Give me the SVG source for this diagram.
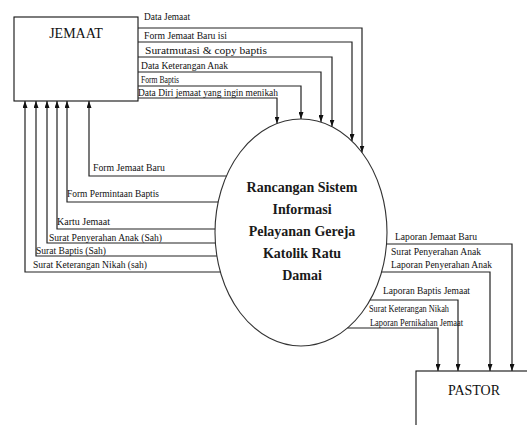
<svg xmlns="http://www.w3.org/2000/svg" width="527" height="425" viewBox="0 0 527 425">
<style>
.box{fill:#fff;stroke:#111;stroke-width:1.1}
.proc{fill:#fff;stroke:#333;stroke-width:1.1}
.ln{fill:none;stroke:#222;stroke-width:1.2}
.lb{font-family:'Liberation Serif','DejaVu Serif',serif;font-size:9.5px;fill:#111}
.nm{font-family:'Liberation Serif','DejaVu Serif',serif;font-size:14px;fill:#111}
.pt{font-family:'Liberation Serif','DejaVu Serif',serif;font-size:14px;font-weight:bold;fill:#1a1a1a;text-anchor:middle}
</style>
<defs>
<marker id="ah" viewBox="0 0 7 5" refX="7" refY="2.5" markerWidth="7" markerHeight="5" markerUnits="userSpaceOnUse" orient="auto">
<path d="M0,0 L7,2.5 L0,5 z" fill="#111"/>
</marker>
</defs>
<rect width="527" height="425" fill="#fff"/>
<g id="jemaat">
<rect class="box" x="14" y="17" width="124" height="84"/>
<text class="nm" font-family="Liberation Serif, serif" x="76" y="38" text-anchor="middle">JEMAAT</text>
</g>
<g id="pastor">
<rect class="box" x="416" y="371" width="130" height="70"/>
<text class="nm" font-family="Liberation Serif, serif" x="474" y="395" text-anchor="middle">PASTOR</text>
</g>
<g id="sistem">
<ellipse class="proc" cx="301" cy="232.5" rx="86" ry="113.5"/>
<text class="pt" x="302" y="192">Rancangan Sistem</text>
<text class="pt" x="302" y="214">Informasi</text>
<text class="pt" x="302" y="236">Pelayanan Gereja</text>
<text class="pt" x="302" y="258">Katolik Ratu</text>
<text class="pt" x="302" y="280">Damai</text>
</g>
<g id="connectors">
<polyline class="ln" points="138,28 362,28 362,152.5" marker-end="url(#ah)"/>
<polyline class="ln" points="138,42 352,42 352,141" marker-end="url(#ah)"/>
<polyline class="ln" points="138,57 332,57 332,126.6" marker-end="url(#ah)"/>
<polyline class="ln" points="138,72 321,72 321,122" marker-end="url(#ah)"/>
<polyline class="ln" points="138,86 301,86 301,119" marker-end="url(#ah)"/>
<polyline class="ln" points="138,98 277,98 277,123.5" marker-end="url(#ah)"/>
<polyline class="ln" points="226.4,176 89,176 89,101" marker-end="url(#ah)"/>
<polyline class="ln" points="218.2,202 67,202 67,101" marker-end="url(#ah)"/>
<polyline class="ln" points="215,229 57,229 57,101" marker-end="url(#ah)"/>
<polyline class="ln" points="215.4,243 47,243 47,101" marker-end="url(#ah)"/>
<polyline class="ln" points="216.9,256 36,256 36,101" marker-end="url(#ah)"/>
<polyline class="ln" points="220.4,272 25,272 25,101" marker-end="url(#ah)"/>
<polyline class="ln" points="386.6,244 512,244 512,371" marker-end="url(#ah)"/>
<polyline class="ln" points="381.6,272 490,272 490,371" marker-end="url(#ah)"/>
<polyline class="ln" points="370.1,300 458,300 458,371" marker-end="url(#ah)"/>
<polyline class="ln" points="347.5,328 438,328 438,371" marker-end="url(#ah)"/>
</g>
<g id="labels">
<text class="lb" x="144" y="20" textLength="46" lengthAdjust="spacingAndGlyphs">Data Jemaat</text>
<text class="lb" x="144" y="39" textLength="83" lengthAdjust="spacingAndGlyphs">Form  Jemaat Baru isi</text>
<text class="lb" x="145" y="54" textLength="122" lengthAdjust="spacingAndGlyphs">Suratmutasi &amp; copy baptis</text>
<text class="lb" x="141" y="69" textLength="87" lengthAdjust="spacingAndGlyphs">Data Keterangan Anak</text>
<text class="lb" x="141" y="83" textLength="38" lengthAdjust="spacingAndGlyphs">Form Baptis</text>
<text class="lb" x="138" y="96" textLength="140" lengthAdjust="spacingAndGlyphs">Data Diri jemaat yang ingin menikah</text>
<text class="lb" x="93" y="171" textLength="72" lengthAdjust="spacingAndGlyphs">Form  Jemaat Baru</text>
<text class="lb" x="67" y="197" textLength="92" lengthAdjust="spacingAndGlyphs">Form Permintaan Baptis</text>
<text class="lb" x="57" y="225" textLength="53" lengthAdjust="spacingAndGlyphs">Kartu  Jemaat</text>
<text class="lb" x="49" y="241" textLength="113" lengthAdjust="spacingAndGlyphs">Surat Penyerahan Anak (Sah)</text>
<text class="lb" x="36" y="254" textLength="70" lengthAdjust="spacingAndGlyphs">Surat Baptis  (Sah)</text>
<text class="lb" x="33" y="268" textLength="114" lengthAdjust="spacingAndGlyphs">Surat Keterangan Nikah (sah)</text>
<text class="lb" x="395" y="240" textLength="82" lengthAdjust="spacingAndGlyphs">Laporan Jemaat Baru</text>
<text class="lb" x="391" y="255" textLength="90" lengthAdjust="spacingAndGlyphs">Surat Penyerahan Anak</text>
<text class="lb" x="391" y="268" textLength="101" lengthAdjust="spacingAndGlyphs">Laporan Penyerahan Anak</text>
<text class="lb" x="383" y="294" textLength="87" lengthAdjust="spacingAndGlyphs">Laporan Baptis  Jemaat</text>
<text class="lb" x="369" y="312" textLength="80" lengthAdjust="spacingAndGlyphs">Surat Keterangan Nikah</text>
<text class="lb" x="370" y="326" textLength="93" lengthAdjust="spacingAndGlyphs">Laporan Pernikahan  Jemaat</text>
</g>
</svg>
